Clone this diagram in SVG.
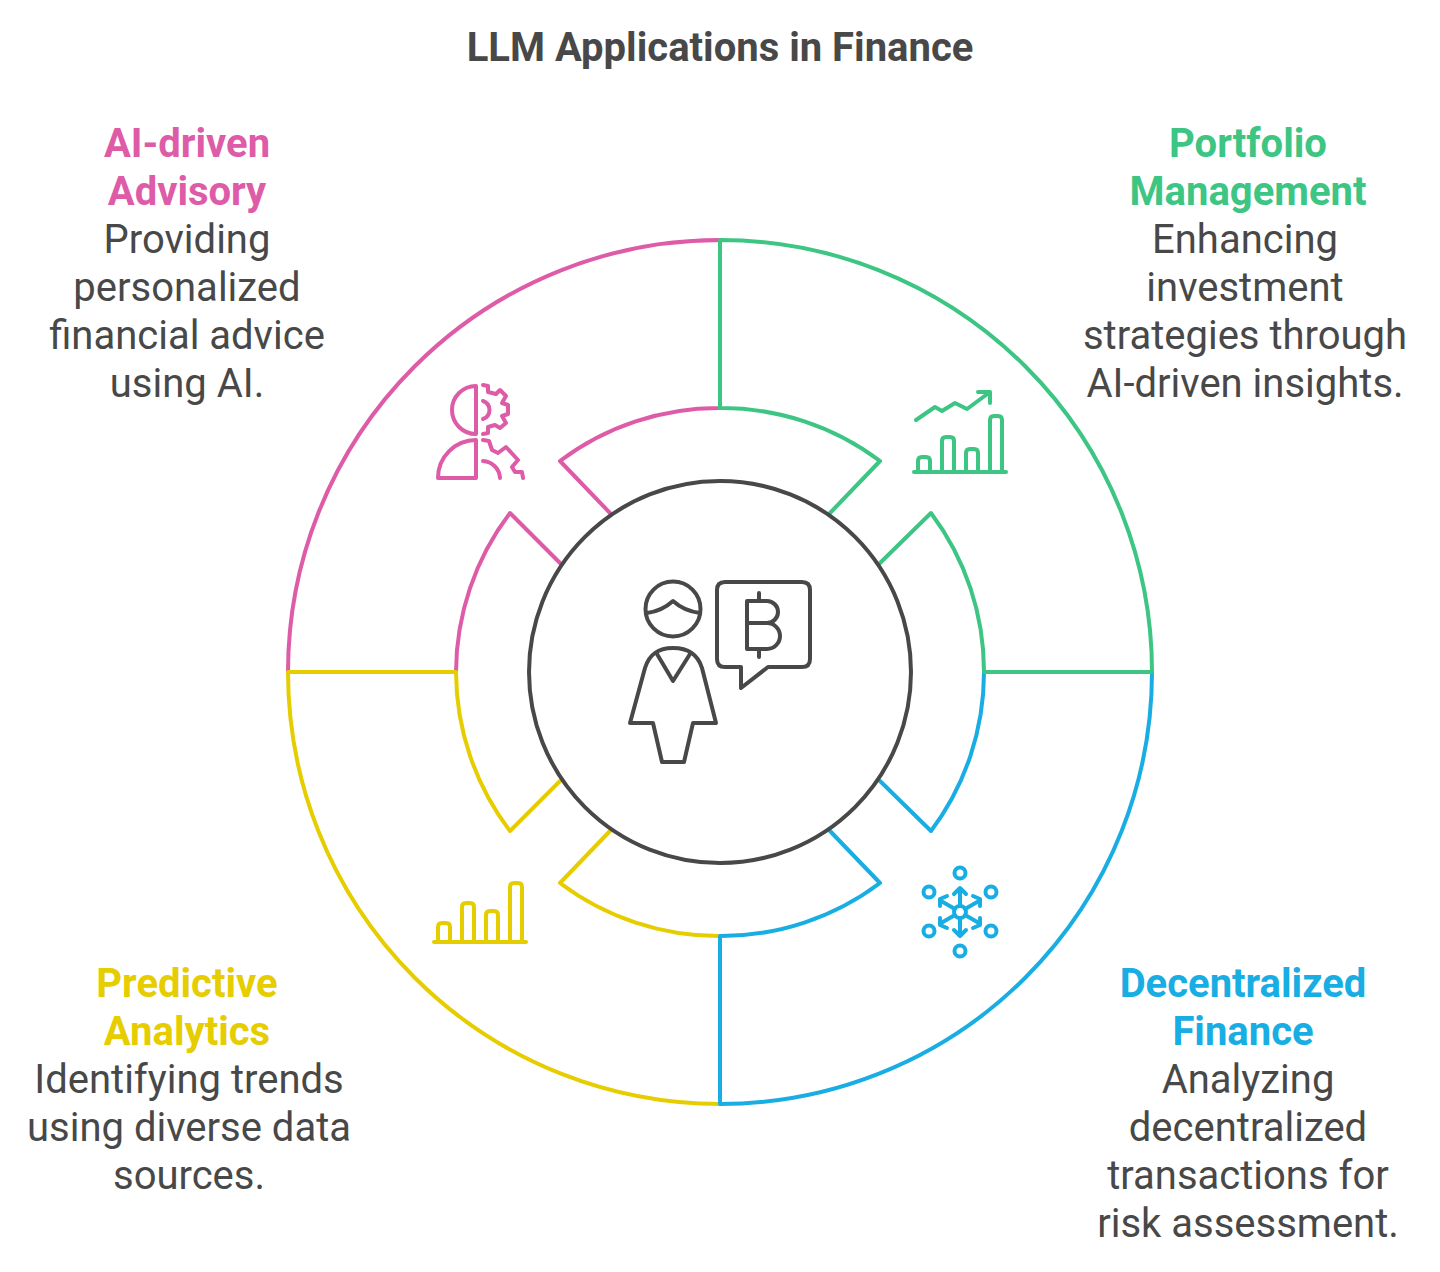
<svg xmlns="http://www.w3.org/2000/svg" width="1440" height="1272" viewBox="0 0 1440 1272">
<style>
text{font-family:Roboto,"Liberation Sans",sans-serif;text-anchor:middle;font-size:40px;fill:#484848}
.t{font-weight:700}
.title{font-size:40px;font-weight:700}
.s,.i{fill:none;stroke-width:4;stroke-linecap:round;stroke-linejoin:round}
.g{stroke:#3cc583}.gf{fill:#3cc583}
.p{stroke:#de5ba7}.pf{fill:#de5ba7}
.b{stroke:#18ade3}.bf{fill:#18ade3}
.y{stroke:#e6cd00}.yf{fill:#e6cd00}
.k{stroke:#484848}
</style>
<rect width="1440" height="1272" fill="#ffffff"/>
<text id="title" class="title" x="720" y="61">LLM Applications in Finance</text>
<g id="connectors"/>
<g id="node-advisory">
<path class="s p" d="M288 672A432 432 0 0 1 720 240V408A264 264 0 0 0 560 461L610 513M560 563L510 513A264 264 0 0 0 456 672H288"/>
<g class="i p"><path d="M476 386V434A24 24 0 0 1 476 386Z"/><path d="M483 385L488 386V392L496 394L500 390L506 396L502 403L508 405V414L502 416L506 423L500 428L495 425L488 427V433L483 434"/><path d="M483 401A9.5 9.5 0 0 1 483 419"/><path d="M476 440V478H438A38 38 0 0 1 476 440Z"/><path d="M483 440L489 441L492 450L498 453L506 447L518 460L512 467L515 472L522 472L523 478"/><path d="M483 461A18 18 0 0 1 500 478"/></g>
<text class="t pf" x="187" y="157">AI-driven</text><text class="t pf" x="187" y="205">Advisory</text>
<text x="187" y="253">Providing</text><text x="187" y="301">personalized</text><text x="187" y="349">financial advice</text><text x="187" y="397">using AI.</text>
</g>
<g id="node-predictive">
<path class="s y" d="M720 1104A432 432 0 0 1 288 672H456A264 264 0 0 0 510 831L560 781M610 831L560 883A264 264 0 0 0 720 936V1104"/>
<g class="i y"><path d="M434 942H526"/><path d="M438 942V927Q438 923 442 923H446Q450 923 450 927V942M462 942V907Q462 903 466 903H470Q474 903 474 907V942M486 942V915Q486 911 490 911H494Q498 911 498 915V942M510 942V887Q510 883 514 883H518Q522 883 522 887V942"/></g>
<text class="t yf" x="187" y="997">Predictive</text><text class="t yf" x="187" y="1045">Analytics</text>
<text x="189" y="1093">Identifying trends</text><text x="189" y="1141">using diverse data</text><text x="189" y="1189">sources.</text>
</g>
<g id="node-defi">
<path class="s b" d="M1152 672A432 432 0 0 1 720 1104V936A264 264 0 0 0 880 883L830 831M880 781L931 831A264 264 0 0 0 984 672H1152"/>
<g class="i b"><circle cx="960" cy="912" r="6"/><circle cx="960" cy="873" r="5.5"/><circle cx="960" cy="951" r="5.5"/><circle cx="929" cy="892" r="5.5"/><circle cx="991" cy="892" r="5.5"/><circle cx="929" cy="931" r="5.5"/><circle cx="991" cy="931" r="5.5"/>
<path d="M960 906V889M954 894L960 888L966 894M960 918V935M954 930L960 936L966 930"/>
<path d="M955 909L941 901M940 906V899L947 896M965 909L979 901M980 906V899L973 896M955 915L941 923M940 918V925L947 928M965 915L979 923M980 918V925L973 928"/></g>
<text class="t bf" x="1243" y="997">Decentralized</text><text class="t bf" x="1243" y="1045">Finance</text>
<text x="1248" y="1093">Analyzing</text><text x="1248" y="1141">decentralized</text><text x="1248" y="1189">transactions for</text><text x="1248" y="1237">risk assessment.</text>
</g>
<g id="node-portfolio">
<path class="s g" d="M720 240A432 432 0 0 1 1152 672H984A264 264 0 0 0 931 513L880 563M830 513L880 461A264 264 0 0 0 720 408V240"/>
<g class="i g"><path d="M916 420L935 407L942 411L955 403L967 409L990 392M978 392H990V403"/><path d="M914 472H1006"/><path d="M918 472V461Q918 457 922 457H926Q930 457 930 461V472M942 472V441Q942 437 946 437H950Q954 437 954 441V472M966 472V453Q966 449 970 449H974Q978 449 978 453V472M990 472V420Q990 416 994 416H998Q1002 416 1002 420V472"/></g>
<text class="t gf" x="1248" y="157">Portfolio</text><text class="t gf" x="1248" y="205">Management</text>
<text x="1245" y="253">Enhancing</text><text x="1245" y="301">investment</text><text x="1245" y="349">strategies through</text><text x="1245" y="397">AI-driven insights.</text>
</g>
<g id="node-center">
<circle class="s k" cx="720" cy="672" r="191"/>
<g class="i k"><circle cx="673" cy="609" r="27.5"/><path d="M647 613Q662 611 673 601Q684 611 700 613"/><path d="M673 648C689 648 698 655 702 668L716 723H693L684 762H662L653 723H630L645 668C649 655 657 648 673 648Z"/><path d="M657 654L673 681L690 654"/>
<path d="M725 582H802Q810 582 810 590V659Q810 667 802 667H768L741 688V667H725Q717 667 717 659V590Q717 582 725 582Z"/>
<path d="M747 601H767A11 11 0 0 1 767 623H747M767 623A13 13 0 0 1 767 649H747V601M759 593V601M759 649V657"/></g>
</g>
</svg>
